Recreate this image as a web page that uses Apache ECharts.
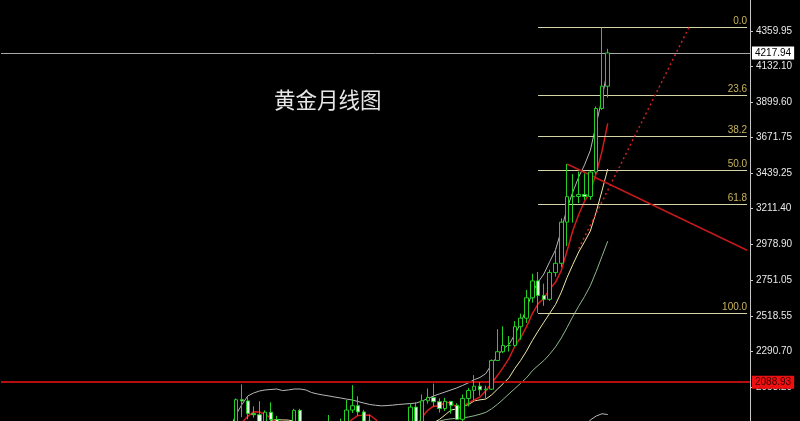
<!DOCTYPE html>
<html><head><meta charset="utf-8">
<script src="https://cdn.jsdelivr.net/npm/echarts@6/dist/echarts.min.js"></script>
<style>html,body{margin:0;padding:0;background:#000;overflow:hidden}#c{width:800px;height:421px}</style>
</head><body><div id="c"></div>
<script>
// ---- axis / category settings ----
const axisStartYear = 2017, axisStartMonth = 3, axisMonthCount = 129;
const candleStart = '2020-07';
const lineStart = '2020-06';
const yMin = 1838.2, yMax = 4560.4;
const yTickLabels = [4359.95, 4132.10, 3899.60, 3671.75, 3439.25, 3211.40, 2978.90, 2751.05, 2518.55, 2290.70, 2058.20];

// ---- monthly OHLC (Jul 2020 .. Nov 2025) ----
const openP = [1781,1976,1968,1887,1879,1777,
  1895,1848,1734,1708,1769,1907,1770,1814,1814,1757,1783,1774,
  1829,1797,1909,1937,1897,1837,1807,1766,1711,1661,1633,1768,
  1824,1928,1827,1969,1990,1963,1919,1965,1940,1849,1984,2036,
  2063,2040,2044,2230,2286,2327,2327,2448,2503,2635,2744,2650,
  2625,2798,2858,3124,3289,3290,3303,3290,3448,3859,4003];
const closeP = [1976,1968,1887,1879,1777,1895,
  1848,1734,1708,1769,1907,1770,1814,1814,1757,1783,1774,1829,
  1797,1909,1937,1897,1837,1807,1766,1711,1661,1633,1768,1824,
  1928,1827,1969,1990,1963,1919,1965,1940,1849,1984,2036,2063,
  2040,2044,2230,2286,2327,2326,2448,2503,2635,2744,2650,2625,
  2798,2858,3124,3289,3290,3303,3290,3448,3859,4003,4218];
const highP = [1984,2075,1992,1933,1966,1907,
  1959,1872,1756,1798,1917,1917,1832,1834,1834,1814,1877,1832,
  1854,1974,2070,1998,1910,1879,1814,1808,1735,1730,1787,1833,
  1949,1960,2010,2049,2080,1984,1988,1966,1953,2009,2052,2135,
  2089,2066,2236,2432,2450,2388,2484,2532,2686,2790,2802,2726,
  2817,2956,3149,3500,3435,3451,3439,3454,3872,4381,4245];
const lowP = [1758,1863,1849,1860,1765,1776,
  1803,1717,1677,1706,1766,1751,1751,1688,1722,1746,1759,1753,
  1780,1782,1890,1872,1787,1805,1681,1710,1615,1617,1617,1765,
  1824,1805,1810,1950,1932,1893,1903,1885,1846,1810,1932,1973,
  2002,1984,2039,2228,2277,2287,2319,2364,2472,2604,2537,2583,
  2615,2772,2833,2970,3121,3247,3268,3268,3436,3850,3930];

// ---- indicator lines (Jun 2020 .. Nov 2025) ----
const ma5 = [1672,1750,1828,1868,1898,1897,1881,
  1857,1826,1792,1791,1793,1777,1793,1815,1812,1788,1788,1791,
  1788,1818,1849,1874,1875,1877,1849,1804,1756,1716,1708,1719,
  1763,1796,1863,1907,1935,1933,1961,1955,1927,1931,1955,1974,
  1994,2033,2082,2132,2185,2243,2323,2378,2447,2531,2596,2631,
  2690,2735,2811,2939,3072,3173,3259,3324,3438,3580,3763];
const ma10 = [1592,1642,1687,1729,1766,1784,1815,
  1842,1847,1845,1844,1837,1817,1810,1803,1802,1790,1783,1792,
  1801,1815,1818,1831,1833,1833,1834,1826,1815,1796,1793,1784,
  1783,1776,1789,1808,1827,1848,1878,1909,1917,1933,1944,1968,
  1975,1980,2007,2044,2080,2118,2178,2230,2290,2358,2419,2477,
  2534,2591,2671,2767,2851,2931,2997,3067,3188,3326,3468];
const ma20 = [1464,1501,1536,1564,1592,1616,1647,
  1674,1690,1705,1718,1739,1752,1770,1785,1793,1803,1813,1820,
  1823,1830,1828,1824,1822,1818,1818,1808,1799,1794,1797,1800,
  1801,1804,1811,1820,1830,1837,1847,1852,1855,1859,1864,1872,
  1882,1894,1917,1946,1979,2014,2048,2082,2117,2163,2197,2229,
  2270,2317,2375,2443,2515,2581,2643,2713,2804,2902,3001];
const bandUpper = [1796,1881,1945,2000,2019,2032,2039,
  2042,2045,2035,2039,2045,2045,2039,2022,2013,2006,2000,1993,
  1987,1980,1974,1964,1954,1945,1940,1936,1938,1941,1945,1948,
  1951,1954,1967,1983,2000,2013,2026,2039,2052,2068,2085,2105,
  2120,2145,2205,2259,2306,2333,2399,2469,2565,2667,2735,2789,
  2868,2944,3071,3215,3320,3416,3494,3588,3755,3921,4121];
const bandLower = [null,null,null,null,null,null,null,
  null,null,null,null,null,null,null,null,null,null,null,null,
  null,null,null,null,null,null,null,null,null,null,null,null,
  null,null,null,null,null,null,null,null,null,null,null,null,
  null,null,null,null,null,null,null,null,null,null,null,null,
  null,null,1679,1671,1710,1746,1792,1845,1870,1885,1880];

// ---- drawn objects ----
const fibHigh = 4381.5, fibLow = 2536.9, fibStart = '2024-11';
const fibLevels = [0, 23.6, 38.2, 50, 61.8, 100];
const fibLabels = ['0.0', '23.6', '38.2', '50.0', '61.8', '100.0'];
const downTrend = [['2025-04', 3500], ['2027-11', 2942]];
const upTrend = [['2025-06', 2953], ['2027-01', 4385]];
const lastPrice = 4217.94;
const supportPrice = 2088.93;
const titleText = '黄金月线图';

// ---- build ----
const cats = [];
for (let i = 0; i < axisMonthCount; i++) {
  const t = axisStartYear * 12 + (axisStartMonth - 1) + i;
  const y = Math.floor(t / 12), m = t % 12 + 1;
  cats.push(y + '-' + (m < 10 ? '0' : '') + m);
}
const cIdx = cats.indexOf(candleStart), lIdx = cats.indexOf(lineStart);
const candleData = cats.map((c, i) => {
  const k = i - cIdx;
  return (k >= 0 && k < openP.length) ? [openP[k], closeP[k], lowP[k], highP[k]] : '-';
});
function pad(arr) {
  return cats.map((c, i) => {
    const k = i - lIdx;
    return (k >= 0 && k < arr.length && arr[k] != null) ? arr[k] : '-';
  });
}
const lastCat = cats[cats.length - 1];
const fibLines = fibLevels.map((lv, i) => {
  const p = fibHigh - (fibHigh - fibLow) * lv / 100;
  return [{ coord: [fibStart, p], label: { formatter: fibLabels[i] } }, { coord: [lastCat, p] }];
});

const chart = echarts.init(document.getElementById('c'), null, { renderer: 'canvas' });
const lineBase = { type: 'line', showSymbol: false, symbol: 'none', silent: true, animation: false, z: 2 };
chart.setOption({
  backgroundColor: '#000000',
  animation: false,
  title: {
    text: titleText, left: 269, top: 84,
    textStyle: { color: '#e6e6e6', fontSize: 21.5, fontWeight: 'normal', fontFamily: 'Noto Sans CJK SC' }
  },
  grid: { left: 1, top: 0, right: 50, bottom: 0, containLabel: false },
  xAxis: {
    type: 'category', data: cats, boundaryGap: true,
    axisLine: { show: false }, axisTick: { show: false }, axisLabel: { show: false }, splitLine: { show: false }
  },
  yAxis: {
    type: 'value', position: 'right', min: yMin, max: yMax, scale: true,
    axisLine: { show: true, lineStyle: { color: '#c8c8c8', width: 1 } },
    axisTick: { show: true, length: 3, lineStyle: { color: '#c8c8c8' }, customValues: yTickLabels },
    axisLabel: {
      show: true, margin: 6, color: '#e8e8e8', fontSize: 10, fontFamily: 'Liberation Sans',
      customValues: yTickLabels, formatter: v => v.toFixed(2)
    },
    splitLine: { show: false }
  },
  series: [
    Object.assign({}, lineBase, { name: 'BBU', data: pad(bandUpper), lineStyle: { color: '#b8b8b8', width: 1 } }),
    Object.assign({}, lineBase, { name: 'BBL', data: pad(bandLower), lineStyle: { color: '#b8b8b8', width: 1 } }),
    Object.assign({}, lineBase, { name: 'MA20', data: pad(ma20), lineStyle: { color: '#8fb88f', width: 1 } }),
    Object.assign({}, lineBase, { name: 'MA10', data: pad(ma10), lineStyle: { color: '#eee8a8', width: 1 } }),
    Object.assign({}, lineBase, { name: 'MA5', data: pad(ma5), lineStyle: { color: '#d01c1c', width: 1.5 } }),
    Object.assign({}, lineBase, {
      name: 'fib', data: [],
      markLine: {
        symbol: 'none', silent: true, animation: false,
        lineStyle: { color: '#d4d4a8', width: 1, type: 'solid' },
        label: { show: true, position: 'insideEndTop', distance: [0, 1], color: '#c8b45a', fontSize: 10, fontFamily: 'Liberation Sans' },
        data: fibLines
      }
    }),
    Object.assign({}, lineBase, {
      name: 'trend', data: [],
      markLine: {
        symbol: 'none', silent: true, animation: false, label: { show: false },
        data: [
          [{ coord: downTrend[0], lineStyle: { color: '#c41a1a', width: 1.5, type: 'solid' } }, { coord: downTrend[1] }],
          [{ coord: upTrend[0], lineStyle: { color: '#d02020', width: 1.5, type: [2, 3] } }, { coord: upTrend[1] }]
        ]
      }
    }),
    Object.assign({}, lineBase, {
      name: 'levels', data: [],
      markLine: {
        symbol: 'none', silent: true, animation: false,
        data: [
          { yAxis: lastPrice, lineStyle: { color: '#a8a8a8', width: 1, type: 'solid' },
            label: { show: true, position: 'end', distance: 2, formatter: lastPrice.toFixed(2), color: '#000', backgroundColor: '#ffffff',
              padding: [2, 3, 1, 3], fontSize: 10, fontFamily: 'Liberation Sans' } },
          { yAxis: supportPrice, lineStyle: { color: '#b40e0e', width: 2, type: 'solid' },
            label: { show: true, position: 'end', distance: 2, formatter: supportPrice.toFixed(2), color: '#3a0000', backgroundColor: '#ee1010',
              padding: [2, 3, 1, 3], fontSize: 10, fontFamily: 'Liberation Sans' } }
        ]
      }
    }),
    {
      type: 'candlestick', name: 'XAUUSD', data: candleData, barWidth: 4, silent: true, z: 5,
      itemStyle: { color: '#000000', color0: '#e4ffe4', borderColor: '#22d022', borderColor0: '#22d022', borderColorDoji: '#22d022', borderWidth: 1 }
    }
  ]
});
</script></body></html>
